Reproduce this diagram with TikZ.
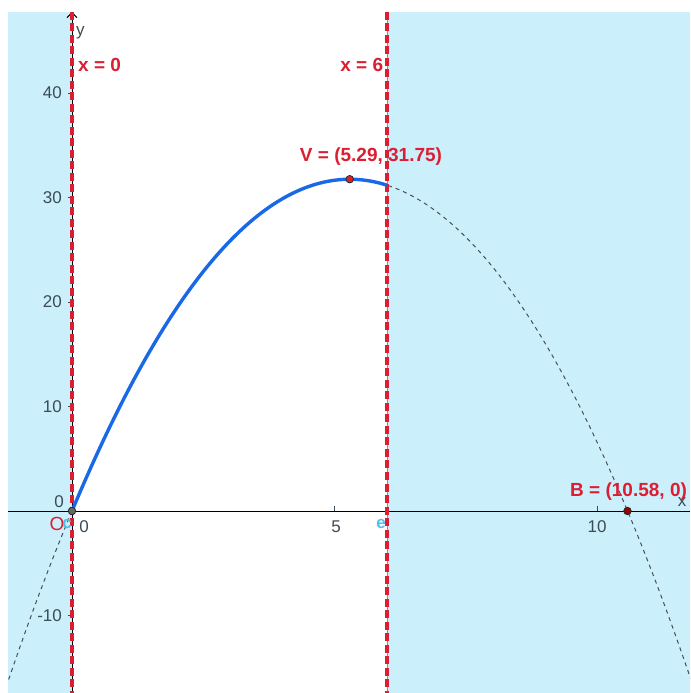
\documentclass[tikz,border=0pt]{standalone}
\usepackage{fontspec}
\setmainfont{Liberation Sans}
\usetikzlibrary{arrows.meta}
\definecolor{bgblue}{RGB}{204,239,252}
\definecolor{redl}{RGB}{220,30,50}
\definecolor{curveblue}{RGB}{25,105,230}
\definecolor{ticktext}{RGB}{60,75,88}
\definecolor{dashgray}{RGB}{70,80,90}
\definecolor{lightlab}{RGB}{80,190,235}
\definecolor{ptdark}{RGB}{40,40,40}
\tikzset{
  ticklab/.style={text=ticktext, inner sep=0pt, font=\fontsize{17}{17}\selectfont},
  redlab/.style={text=redl, inner sep=0pt, font=\bfseries\fontsize{19}{19}\selectfont},
  bluelab/.style={text=lightlab, inner sep=0pt, font=\bfseries\fontsize{17}{17}\selectfont},
  redline/.style={draw=redl, line width=3.4pt, dash pattern=on 8pt off 3.5pt},
  ptnode/.style={circle, draw=ptdark, line width=0.8pt, minimum size=7.5pt, inner sep=0pt},
}
\begin{document}
\begin{tikzpicture}[x=52.5pt, y=10.45pt]
\useasboundingbox (-1.3714,-17.416) rectangle (11.7714,48.899);
\fill[white] (-1.3714,-17.416) rectangle (11.7714,48.899);
% shaded regions
\fill[bgblue] (-1.219,-17.416) rectangle (0,47.751);
\fill[bgblue] (6,-17.416) rectangle (11.7714,47.751);
% dashed parabola
\begin{scope}
\clip (-1.219,-17.416) rectangle (11.7714,47.751);
\draw[dashgray, line width=1pt, dash pattern=on 4pt off 4pt]
  plot[domain=-1.4:11.9, samples=120, smooth] (\x,{12*\x-1.134*\x*\x});
\end{scope}
% axes
\coordinate (xl) at (-1.219,0);
\coordinate (xr) at (11.7714,0);
\coordinate (yb) at (0,-17.416);
\coordinate (yt) at (0,47.751);
\draw[black, line width=0.9pt] (xl) -- (xr);
\draw[black, line width=0.9pt, -{Straight Barb[length=5pt,width=10pt]}] (yb) -- (yt);
% ticks
\foreach \t in {5,10} \draw[ticktext, line width=0.8pt] (\t,0) -- ++(0,0.45);
\foreach \t in {-10,10,20,30,40} \draw[ticktext, line width=0.8pt] (0,\t) -- ++(-0.08,0);
% tick labels
\node[ticklab, anchor=east] (y40) at (-0.19,40) {40};
\node[ticklab, anchor=east] (y30) at (-0.19,30) {30};
\node[ticklab, anchor=east] (y20) at (-0.19,20) {20};
\node[ticklab, anchor=east] (y10) at (-0.19,10) {10};
\node[ticklab, anchor=east] (y0) at (-0.15,0.86) {0};
\node[ticklab, anchor=east] (ym10) at (-0.19,-10) {-10};
\node[ticklab] (x0) at (0.229,-1.53) {0};
\node[ticklab] (x5) at (5.03,-1.53) {5};
\node[ticklab] (x10) at (10,-1.53) {10};
\node[ticklab] (ylab) at (0.16,45.8) {y};
\node[ticklab] (xlab) at (11.62,0.86) {x};
% red vertical lines
\coordinate (t0) at (0,47.751);
\coordinate (b0) at (0,-17.416);
\coordinate (t6) at (6,47.751);
\coordinate (b6) at (6,-17.416);
\draw[ticktext!60, line width=0.8pt] (t6) -- (b6);
\draw[redline] (t0) -- (b0);
\draw[redline] (t6) -- (b6);
% curve
\draw[curveblue, line width=3.4pt] plot[domain=0:6, samples=80, smooth] (\x,{12*\x-1.134*\x*\x});
% points
\node[ptnode, fill=ptdark!70] (O) at (0,0) {};
\node[ptnode, fill=redl] (V) at (5.29,31.75) {};
\node[ptnode, fill=red!60!black] (B) at (10.58,0) {};
% labels
\node[redlab, anchor=west] (l0) at (0.114,42.68) {x = 0};
\node[redlab, anchor=east] (l6) at (5.93,42.68) {x = 6};
\node[redlab] (lV) at (5.695,33.88) {V = (5.29, 31.75)};
\node[redlab, anchor=west] (lB) at (9.486,1.82) {B = (10.58, 0)};
\node[redlab, font=\fontsize{19}{19}\selectfont] (lO) at (-0.286,-1.2) {O};
\node[bluelab] (lc) at (-0.095,-1.2) {c};
\node[bluelab] (le) at (5.886,-1.2) {e};
\end{tikzpicture}
\end{document}
